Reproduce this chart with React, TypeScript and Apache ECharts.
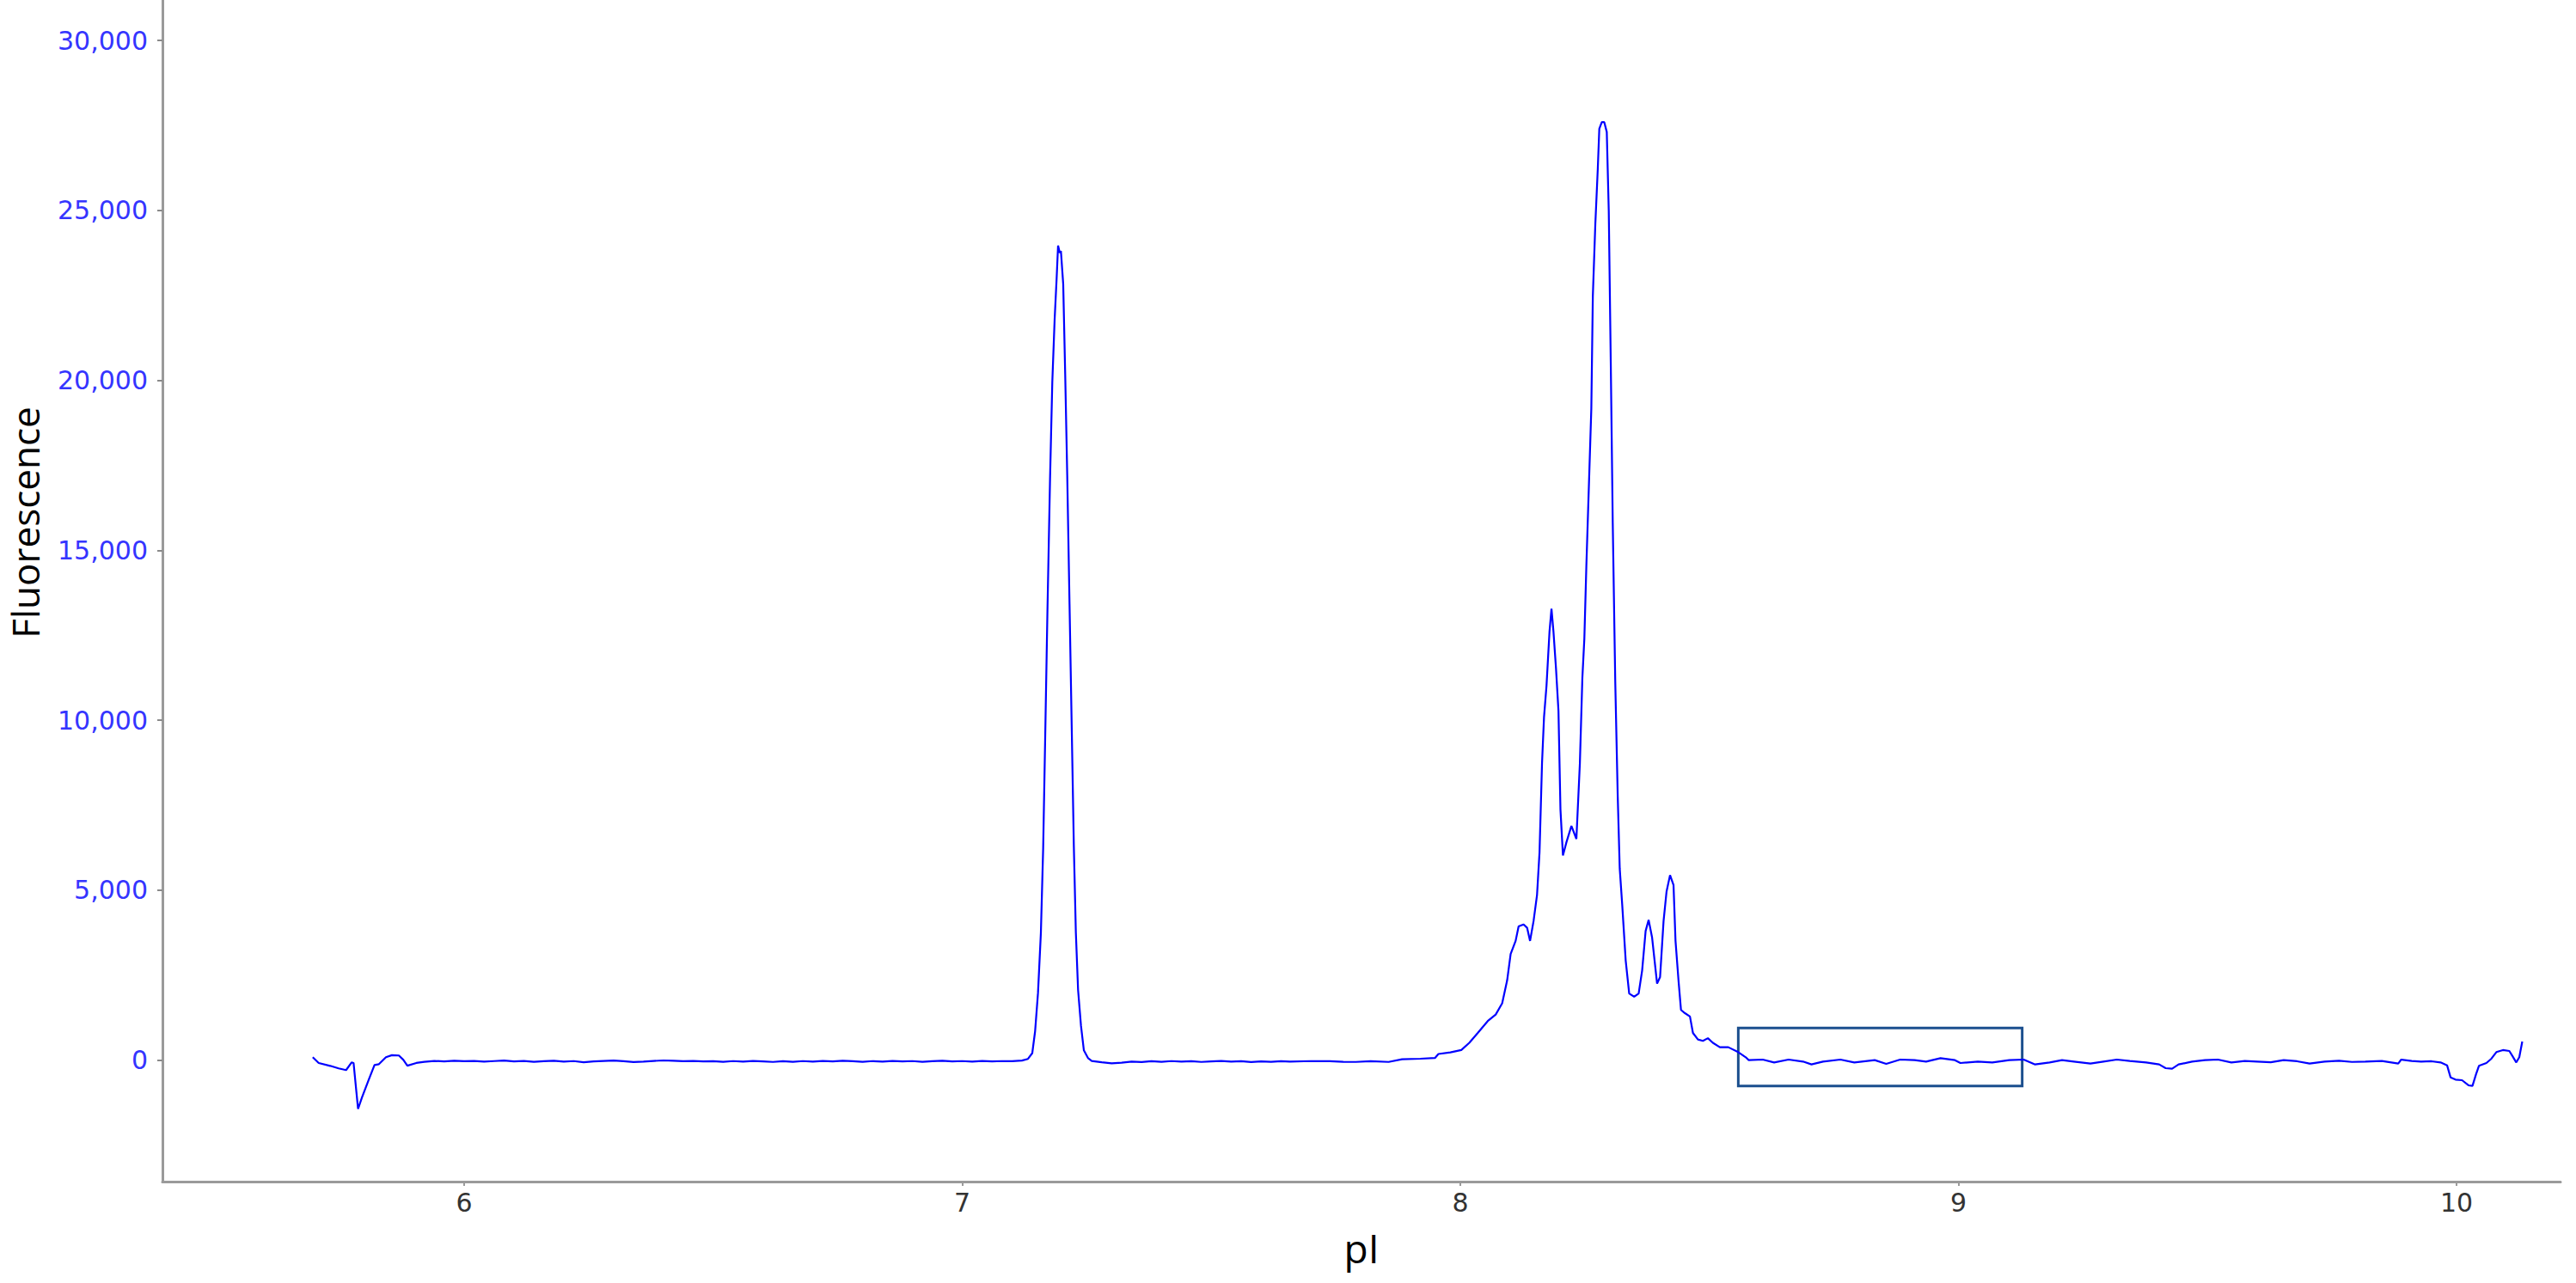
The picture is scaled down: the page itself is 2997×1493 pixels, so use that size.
import React, { useEffect, useRef } from 'react'
import * as echarts from 'echarts'

// trace of the isoelectric focusing run, [pI, fluorescence]
const startSegment: number[][] = [
  [5.696, 90], [5.708, -80], [5.731, -165], [5.748, -240], [5.763, -290],
  [5.774, -63], [5.778, -80], [5.787, -1430], [5.795, -1090], [5.808, -590],
  [5.82, -140], [5.829, -115], [5.843, 90], [5.855, 150], [5.869, 140],
  [5.878, 10], [5.886, -160], [5.904, -80]
]

const baselineLeft: number[][] = [
  [5.92, -45], [5.94, -20], [5.96, -35], [5.98, -15], [6.0, -30], [6.02, -20],
  [6.04, -40], [6.06, -25], [6.08, -10], [6.1, -35], [6.12, -20], [6.14, -45],
  [6.16, -30], [6.18, -15], [6.2, -40], [6.22, -25], [6.24, -60], [6.26, -35],
  [6.28, -20], [6.3, -10], [6.32, -30], [6.34, -55], [6.36, -40], [6.38, -20],
  [6.4, -5], [6.42, -15], [6.44, -30], [6.46, -20], [6.48, -35], [6.5, -30],
  [6.52, -45], [6.54, -25], [6.56, -40], [6.58, -20], [6.6, -35], [6.62, -50],
  [6.64, -30], [6.66, -45], [6.68, -25], [6.7, -40], [6.72, -20], [6.74, -35],
  [6.76, -15], [6.78, -30], [6.8, -45], [6.82, -25], [6.84, -40], [6.86, -20],
  [6.88, -35], [6.9, -25], [6.92, -45], [6.94, -30], [6.96, -15], [6.98, -35],
  [7.0, -25], [7.02, -40], [7.04, -20], [7.06, -35], [7.08, -25], [7.1, -30],
  [7.12, -10], [7.132, 40]
]

const firstPeak: number[][] = [
  [7.1406, 209], [7.1463, 854], [7.1521, 1981], [7.1579, 3753], [7.1625, 6250],
  [7.1665, 9471], [7.1711, 13256], [7.1763, 17122], [7.1808, 19940], [7.1855, 21793],
  [7.1895, 23001], [7.1924, 23967], [7.1958, 23750], [7.1981, 23806], [7.2027, 22840],
  [7.2067, 20182], [7.2108, 17202], [7.2154, 13417], [7.22, 9632], [7.224, 6330],
  [7.2281, 3753], [7.2326, 2062], [7.2384, 1015], [7.2442, 290], [7.2528, 60]
]

const baselineMid: number[][] = [
  [7.26, -20], [7.28, -60], [7.3, -90], [7.32, -70], [7.34, -40], [7.36, -55],
  [7.38, -30], [7.4, -45], [7.42, -25], [7.44, -40], [7.46, -30], [7.48, -50],
  [7.5, -35], [7.52, -20], [7.54, -40], [7.56, -30], [7.58, -55], [7.6, -35],
  [7.62, -45], [7.64, -30]
]

const mainCluster: number[][] = [
  [7.658, -40], [7.7, -25], [7.738, -29], [7.765, -45], [7.79, -50], [7.82, -30],
  [7.856, -50], [7.883, 30], [7.92, 45], [7.949, 66], [7.956, 184], [7.98, 230],
  [8.002, 301], [8.018, 513], [8.035, 803], [8.055, 1152], [8.071, 1345], [8.084, 1674],
  [8.094, 2351], [8.101, 3125], [8.111, 3511], [8.117, 3937], [8.127, 3995], [8.134, 3898],
  [8.14, 3511], [8.147, 4093], [8.154, 4866], [8.159, 6123], [8.164, 8735], [8.168, 10089],
  [8.173, 11017], [8.179, 12604], [8.183, 13281], [8.187, 12604], [8.192, 11540],
  [8.197, 10282], [8.201, 7380], [8.206, 6026], [8.213, 6413], [8.223, 6894], [8.233, 6510],
  [8.24, 8735], [8.245, 11249], [8.249, 12410], [8.253, 14538], [8.258, 16860],
  [8.263, 19181], [8.266, 22470], [8.271, 24598], [8.276, 26242], [8.279, 27403],
  [8.284, 27596], [8.289, 27596], [8.294, 27306], [8.298, 24984], [8.302, 20535],
  [8.306, 15796], [8.311, 11153], [8.316, 7762], [8.32, 5640], [8.325, 4575], [8.332, 2931],
  [8.339, 1964], [8.349, 1867], [8.358, 1964], [8.365, 2641], [8.372, 3802], [8.378, 4130],
  [8.385, 3608], [8.39, 2931], [8.395, 2254], [8.401, 2447], [8.408, 4092], [8.414, 4962],
  [8.421, 5446], [8.428, 5155], [8.432, 3511], [8.438, 2351], [8.443, 1480], [8.451, 1384],
  [8.461, 1287], [8.467, 803], [8.477, 610], [8.487, 571], [8.497, 648], [8.507, 513]
]

const baselineRight: number[][] = [
  [8.521, 383], [8.538, 383], [8.556, 256], [8.573, 88], [8.579, 3], [8.607, 20],
  [8.63, -64], [8.659, 20], [8.688, -39], [8.705, -123], [8.728, -39], [8.763, 20],
  [8.791, -64], [8.832, 3], [8.855, -106], [8.883, 20], [8.912, 3], [8.935, -39],
  [8.964, 62], [8.993, 3], [9.004, -81], [9.039, -39], [9.068, -64], [9.102, 3],
  [9.131, 20], [9.154, -123], [9.183, -64], [9.208, 3], [9.232, -39], [9.265, -97],
  [9.291, -39], [9.318, 20], [9.344, -22], [9.377, -64], [9.403, -123], [9.416, -233],
  [9.429, -250], [9.442, -123], [9.469, -39], [9.495, 3], [9.521, 20], [9.548, -64],
  [9.575, -20], [9.6, -39], [9.627, -60], [9.653, 3], [9.68, -30], [9.705, -97],
  [9.735, -40], [9.764, -13], [9.79, -50], [9.817, -39], [9.85, -20], [9.883, -97],
  [9.889, 20], [9.91, -20], [9.929, -39], [9.95, -30], [9.968, -64], [9.981, -148],
  [9.988, -502], [9.998, -570], [10.011, -587], [10.024, -738], [10.032, -755],
  [10.039, -418], [10.045, -165], [10.06, -81], [10.07, 46], [10.08, 240], [10.093, 299],
  [10.106, 273], [10.112, 130], [10.12, -64], [10.126, 88], [10.132, 551]
]

// boxed region drawn over the baseline
const boxCorners: number[][] = [[8.558, 950], [9.128, -755]]

const yLabelColor = '#3535ff'
const axisGrey = '#9a9a9a'

export default function App() {
  const chartRef = useRef<HTMLDivElement>(null)

  useEffect(() => {
    if (!chartRef.current) return
    const chart = echarts.init(chartRef.current, null, { renderer: 'svg' })

    const trace = [
      ...startSegment,
      ...baselineLeft,
      ...firstPeak,
      ...baselineMid,
      ...mainCluster,
      ...baselineRight
    ]

    chart.setOption({
      animation: false,
      backgroundColor: '#ffffff',
      grid: { left: 189, right: 18, top: 0, bottom: 118, containLabel: false },
      graphic: [
        {
          type: 'text',
          x: 29,
          y: 608,
          rotation: Math.PI / 2,
          style: {
            text: 'Fluorescence',
            font: '44px "Open Sans"',
            fill: '#000000',
            align: 'center',
            verticalAlign: 'middle'
          }
        }
      ],
      xAxis: {
        type: 'value',
        min: 5.3943,
        max: 10.2088,
        splitNumber: 5,
        name: 'pI',
        nameLocation: 'middle',
        nameGap: 54,
        nameTextStyle: { fontSize: 46, fontFamily: 'Open Sans', color: '#000000' },
        axisLine: { show: true, onZero: false, lineStyle: { color: axisGrey, width: 3 } },
        axisTick: { show: true, length: 5, lineStyle: { color: axisGrey, width: 2 } },
        axisLabel: {
          color: '#333333',
          fontSize: 30,
          fontFamily: 'DejaVu Sans',
          margin: 9,
          showMinLabel: false,
          showMaxLabel: false
        },
        splitLine: { show: false }
      },
      yAxis: {
        type: 'value',
        min: -3570,
        max: 31190,
        splitNumber: 6,
        axisLine: { show: true, onZero: false, lineStyle: { color: axisGrey, width: 3 } },
        axisTick: { show: true, length: 6, lineStyle: { color: '#8a8a8a', width: 2 } },
        axisLabel: {
          color: yLabelColor,
          fontSize: 30,
          fontFamily: 'DejaVu Sans',
          margin: 17,
          showMinLabel: false,
          showMaxLabel: false,
          formatter: (v: number) => v.toLocaleString('en-US')
        },
        splitLine: { show: false }
      },
      series: [
        {
          type: 'line',
          data: trace,
          showSymbol: false,
          symbol: 'none',
          lineStyle: { color: '#0000ff', width: 2.2 },
          markArea: {
            silent: true,
            itemStyle: { color: 'rgba(0,0,0,0)', borderColor: '#1b4f8e', borderWidth: 3 },
            data: [[{ coord: boxCorners[0] }, { coord: boxCorners[1] }]]
          }
        }
      ]
    })

    return () => {
      chart.dispose()
    }
  }, [])

  return (
    <div
      ref={chartRef}
      style={{ position: 'fixed', left: 0, top: 0, width: '100vw', height: '100vh', background: '#fff' }}
    />
  )
}
